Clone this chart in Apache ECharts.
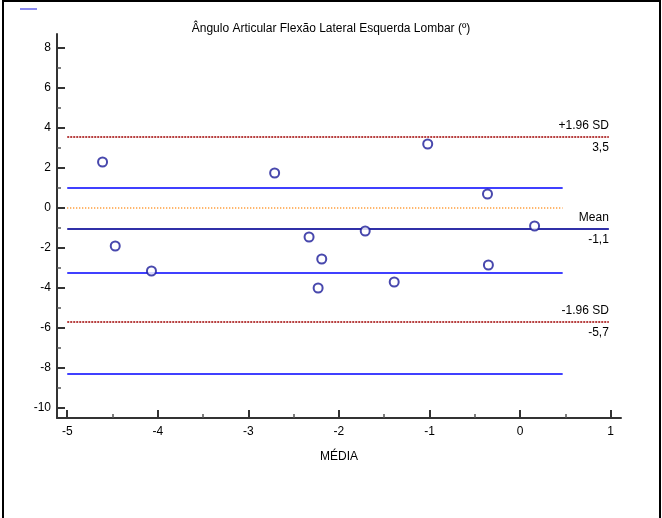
<!DOCTYPE html>
<html>
<head>
<meta charset="utf-8">
<script src="https://cdn.jsdelivr.net/npm/echarts@6.0.0/dist/echarts.min.js"></script>
<style>
  html, body { margin: 0; padding: 0; background: #fff; }
  #chart { width: 662px; height: 518px; }
</style>
</head>
<body>
<div id="chart"></div>
<script>
var dom = document.getElementById("chart");
var myChart = echarts.init(dom);

// data
var mediaValues = [-4.61, -4.47, -4.07, -2.71, -2.33, -2.19, -2.23, -1.71, -1.39, -1.02, -0.36, -0.35, 0.16];
var diffValues  = [2.3, -1.9, -3.15, 1.75, -1.45, -2.55, -4.0, -1.15, -3.7, 3.2, 0.7, -2.85, -0.9];

var limitNames  = ['+1.96 SD', 'Mean', '-1.96 SD'];
var limitValues = [3.55, -1.05, -5.7];
var limitLabels = ['3,5', '-1,1', '-5,7'];
var ciValues    = [1.0, -3.25, -8.3];

var xTicks = [-5, -4, -3, -2, -1, 0, 1];
var xMinorTicks = [-4.5, -3.5, -2.5, -1.5, -0.5, 0.5];
var yTicks = [-10, -8, -6, -4, -2, 0, 2, 4, 6, 8];
var yMinorTicks = [-9, -7, -5, -3, -1, 1, 3, 5, 7];

var lineStart = -5;
var limitEnd = 0.98;
var ciEnd = 0.47;

var axisColor = '#333';
var fontFam = 'Liberation Sans, Arial, sans-serif';

function hLine(y, x0, x1) {
    return [[x0, y], [x1, y]];
}

var scatterData = mediaValues.map(function (x, i) { return [x, diffValues[i]]; });

var series = [];

// zero reference
series.push({
    type: 'line', xAxisIndex: 0, yAxisIndex: 0,
    data: hLine(0, lineStart, ciEnd),
    symbol: 'none', silent: true,
    lineStyle: { color: '#ff8000', width: 1.3, type: [1, 2] }
});

// confidence interval lines
ciValues.forEach(function (v) {
    series.push({
        type: 'line', xAxisIndex: 0, yAxisIndex: 0,
        data: hLine(v, lineStart, ciEnd),
        symbol: 'none', silent: true,
        lineStyle: { color: '#0000ff', width: 1.3 }
    });
});

// limits and mean
limitValues.forEach(function (v, i) {
    var isMean = limitNames[i] === 'Mean';
    var lblStyle = { show: true, color: '#000', fontSize: 12, fontFamily: fontFam, distance: [0, 5] };
    series.push({
        type: 'line', xAxisIndex: 0, yAxisIndex: 0,
        data: hLine(v, lineStart, limitEnd),
        symbol: 'none', silent: true,
        lineStyle: isMean ? { color: '#3030a8', width: 2.2 } : { color: '#a00000', width: 1.3, type: [2, 1] },
        markLine: {
            silent: true, symbol: 'none',
            lineStyle: { width: 0, color: 'rgba(0,0,0,0)' },
            data: [
                [{ coord: [lineStart, v], label: Object.assign({ position: 'insideEndTop', formatter: limitNames[i] }, lblStyle) },
                 { coord: [limitEnd, v] }],
                [{ coord: [lineStart, v], label: Object.assign({ position: 'insideEndBottom', formatter: limitLabels[i] }, lblStyle) },
                 { coord: [limitEnd, v] }]
            ]
        }
    });
});

series.push({
    type: 'scatter', xAxisIndex: 0, yAxisIndex: 0,
    data: scatterData,
    symbol: 'emptyCircle', symbolSize: 9,
    itemStyle: { color: '#1a1a99', borderColor: '#1a1a99', borderWidth: 1.2 },
    z: 10
});

var xMin = -5.113, xMax = 1.114;
var yMin = -10.5, yMax = 8.7;

var option = {
    animation: false,
    textStyle: { fontFamily: fontFam },
    title: {
        text: 'Ângulo Articular Flexão Lateral Esquerda Lombar (º)',
        left: 'center', top: 18,
        textStyle: { fontSize: 12, fontWeight: 'normal', color: '#000', fontFamily: fontFam }
    },
    grid: { left: 57, right: 41, top: 34, bottom: 100, containLabel: false },
    xAxis: [
        {
            type: 'value', min: xMin, max: xMax,
            name: 'MÉDIA', nameLocation: 'middle', nameGap: 33,
            nameTextStyle: { color: '#000', fontSize: 12, fontFamily: fontFam },
            axisLine: { show: true, onZero: false, lineStyle: { color: axisColor, width: 2 } },
            axisTick: { show: true, inside: true, length: 8, lineStyle: { color: axisColor, width: 2 }, customValues: xTicks },
            axisLabel: { color: '#000', fontSize: 12, margin: 8, customValues: xTicks, formatter: function (v) { return String(v); } },
            splitLine: { show: false }
        },
        {
            type: 'value', min: xMin, max: xMax, position: 'bottom', offset: 0,
            axisLine: { show: false, onZero: false },
            axisTick: { show: true, inside: true, length: 4, lineStyle: { color: '#555', width: 1.5 }, customValues: xMinorTicks },
            axisLabel: { show: false },
            splitLine: { show: false }
        }
    ],
    yAxis: [
        {
            type: 'value', min: yMin, max: yMax,
            axisLine: { show: true, onZero: false, lineStyle: { color: axisColor, width: 2 } },
            axisTick: { show: true, inside: true, length: 8, lineStyle: { color: axisColor, width: 2 }, customValues: yTicks },
            axisLabel: { color: '#000', fontSize: 12, margin: 6, customValues: yTicks, formatter: function (v) { return String(v); } },
            splitLine: { show: false }
        },
        {
            type: 'value', min: yMin, max: yMax, position: 'left', offset: 0,
            axisLine: { show: false, onZero: false },
            axisTick: { show: true, inside: true, length: 4, lineStyle: { color: '#555', width: 1.5 }, customValues: yMinorTicks },
            axisLabel: { show: false },
            splitLine: { show: false }
        }
    ],
    graphic: [
        { type: 'rect', shape: { x: 3, y: 1, width: 657, height: 540 }, style: { fill: 'none', stroke: '#000', lineWidth: 2 }, silent: true },
        { type: 'line', shape: { x1: 20, y1: 9, x2: 37, y2: 9 }, style: { stroke: '#8a8af0', lineWidth: 2 }, silent: true }
    ],
    series: series
};

if (option && typeof option === "object") {
    myChart.setOption(option, true);
}
</script>
</body>
</html>
